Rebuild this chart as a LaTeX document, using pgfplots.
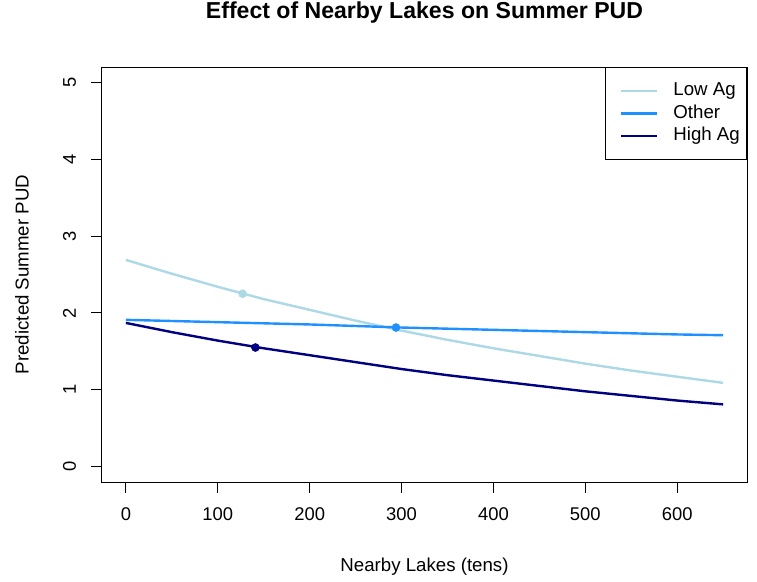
\documentclass[border=0pt]{standalone}
\usepackage{fontspec}
\setmainfont{Liberation Sans}
\usepackage{pgfplots}
\pgfplotsset{compat=1.18}
\definecolor{lowag}{RGB}{173,216,230}
\definecolor{other}{RGB}{30,144,255}
\definecolor{highag}{RGB}{0,0,128}
\begin{document}
\begin{tikzpicture}
\begin{axis}[
  name=ax,
  scale only axis,
  width=483.75pt, height=311.25pt,
  xmin=-26, xmax=676, ymin=-0.2, ymax=5.2,
  xtick={0,100,...,600}, ytick={0,1,...,5},
  tick align=outside, major tick length=8pt,
  xtick pos=bottom, ytick pos=left,
  axis line style={line width=0.75pt},
  every tick/.style={black, line width=0.75pt},
  /pgf/number format/assume math mode=true,
  tick label style={font=\fontsize{13.8}{15}\selectfont},
  xticklabel style={yshift=-8pt},
  yticklabel style={xshift=-8pt, rotate=90, anchor=south},
  title={Effect of Nearby Lakes on Summer PUD},
  title style={font=\bfseries\fontsize{17.3}{20}\selectfont, at={(axis description cs:0.5,1.113)}, anchor=center, yshift=0pt},
  xlabel={Nearby Lakes (tens)},
  xlabel style={font=\fontsize{14}{16}\selectfont, at={(axis description cs:0.5,-0.205)}, anchor=center},
  ylabel={Predicted Summer PUD},
  ylabel style={font=\fontsize{14}{16}\selectfont, at={(axis description cs:-0.124,0.5)}, anchor=center},
  legend style={at={(1,1)}, anchor=north east, draw=black, line width=0.75pt,
    font=\fontsize{14}{16}\selectfont, inner xsep=3pt, inner ysep=9pt, row sep=0pt,
    nodes={text height=10pt, text depth=3pt}},
  legend cell align=left,
  legend image code/.code={\path[draw=none,fill=none] (0pt,0pt) -- (46pt,0pt);\draw[#1, line width=1.8pt] (9pt,0pt) -- (36pt,0pt);},
]
\addplot[lowag, line width=1.8pt] coordinates {
 (0,2.69) (50,2.51) (100,2.34) (150,2.18) (200,2.04) (250,1.90) (300,1.77)
 (350,1.65) (400,1.54) (450,1.44) (500,1.34) (550,1.25) (600,1.17) (650,1.09)};
\addlegendentry{Low Ag}
\addplot[other, line width=1.8pt] coordinates {
 (0,1.91) (100,1.88) (200,1.85) (300,1.81) (400,1.78) (500,1.75) (600,1.72) (650,1.71)};
\addlegendentry{Other}
\addplot[highag, line width=1.8pt] coordinates {
 (0,1.87) (50,1.75) (100,1.64) (150,1.54) (200,1.45) (250,1.36) (300,1.27)
 (350,1.19) (400,1.12) (450,1.05) (500,0.98) (550,0.92) (600,0.86) (650,0.81)};
\addlegendentry{High Ag}
\addplot[only marks, mark=*, mark size=3pt, color=lowag, forget plot] coordinates {(127,2.25)};
\addplot[only marks, mark=*, mark size=3pt, color=other, forget plot] coordinates {(294,1.81)};
\addplot[only marks, mark=*, mark size=3pt, color=highag, forget plot] coordinates {(141,1.55)};
\end{axis}
\pgfresetboundingbox
\path[use as bounding box] ([xshift=-76.5pt,yshift=-75pt]ax.south west) rectangle ([xshift=7.5pt,yshift=50.25pt]ax.north east);
\end{tikzpicture}
\end{document}
